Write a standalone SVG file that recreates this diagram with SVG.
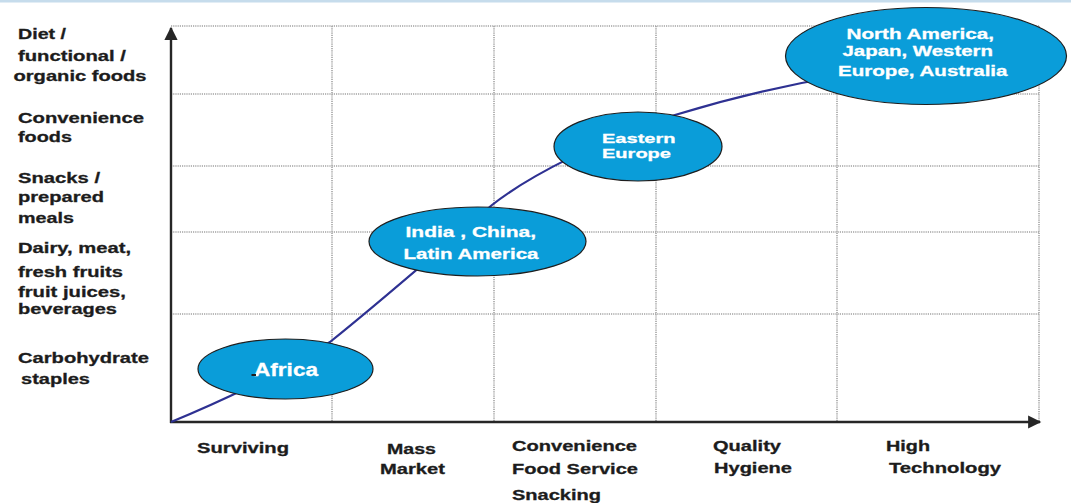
<svg xmlns="http://www.w3.org/2000/svg" width="1071" height="503" viewBox="0 0 1071 503">
  <style>
    .lbl { font-family: "Liberation Sans", Arial, sans-serif; font-weight: bold; font-size: 15px; fill: #1c1c1c; stroke: #1c1c1c; stroke-width: 0.3; }
    .in { font-family: "Liberation Sans", Arial, sans-serif; font-weight: bold; font-size: 15px; fill: #ffffff; stroke: #ffffff; stroke-width: 0.3; }
    .grid { stroke: #a3a3a3; stroke-width: 1.6; stroke-dasharray: 1.2 1; fill: none; }
    .axis { stroke: #262626; stroke-width: 2.4; fill: none; }
    .bubble { fill: #0a9dd9; stroke: #1e1e1e; stroke-width: 1.2; }
    .curve { stroke: #2e3192; stroke-width: 2.2; fill: none; }
  </style>
  <defs>
    <marker id="arrow" viewBox="0 0 10 10" refX="9" refY="5" markerWidth="6" markerHeight="5.5" markerUnits="strokeWidth" orient="auto">
      <path d="M0,0 L10,5 L0,10 z" fill="#262626"/>
    </marker>
  </defs>

  <rect width="1071" height="503" fill="#ffffff"/>
  <rect x="0" y="0" width="1071" height="2.5" fill="#c6dcec"/>

  <!-- grid -->
  <g id="grid">
    <line class="grid" x1="171" y1="26" x2="1039" y2="26"/>
    <line class="grid" x1="171" y1="94" x2="1039" y2="94"/>
    <line class="grid" x1="171" y1="166" x2="1039" y2="166"/>
    <line class="grid" x1="171" y1="232" x2="1039" y2="232"/>
    <line class="grid" x1="171" y1="314" x2="1039" y2="314"/>
    <line class="grid" x1="332" y1="26" x2="332" y2="422"/>
    <line class="grid" x1="494" y1="26" x2="494" y2="422"/>
    <line class="grid" x1="656" y1="26" x2="656" y2="422"/>
    <line class="grid" x1="837" y1="26" x2="837" y2="422"/>
    <line class="grid" x1="1039" y1="26" x2="1039" y2="422"/>
  </g>

  <!-- axes -->
  <g id="axes">
    <line class="axis" x1="171" y1="423" x2="171" y2="28" marker-end="url(#arrow)"/>
    <line class="axis" x1="170" y1="422" x2="1040" y2="422" marker-end="url(#arrow)"/>
  </g>

  <!-- connectors: development path -->
  <g id="connectors">
    <path class="curve" d="M171,422 C210,406 290,370 330,342 C370,310 440,250 492,205 C530,175 600,140 675,115 C730,98 780,86 840,76"/>
  </g>

  <!-- vertical axis categories -->
  <g id="y-labels" class="lbl">
    <text x="18" y="39" textLength="48" lengthAdjust="spacingAndGlyphs">Diet /</text>
    <text x="18" y="61" textLength="108" lengthAdjust="spacingAndGlyphs">functional /</text>
    <text x="13.5" y="81" textLength="133" lengthAdjust="spacingAndGlyphs">organic foods</text>
    <text x="18" y="123" textLength="126" lengthAdjust="spacingAndGlyphs">Convenience</text>
    <text x="18" y="142" textLength="54" lengthAdjust="spacingAndGlyphs">foods</text>
    <text x="18" y="183" textLength="82" lengthAdjust="spacingAndGlyphs">Snacks /</text>
    <text x="18" y="202" textLength="86" lengthAdjust="spacingAndGlyphs">prepared</text>
    <text x="18" y="223" textLength="56" lengthAdjust="spacingAndGlyphs">meals</text>
    <text x="18" y="253" textLength="113" lengthAdjust="spacingAndGlyphs">Dairy, meat,</text>
    <text x="18" y="277" textLength="105" lengthAdjust="spacingAndGlyphs">fresh fruits</text>
    <text x="18" y="297" textLength="108" lengthAdjust="spacingAndGlyphs">fruit juices,</text>
    <text x="18" y="314" textLength="99" lengthAdjust="spacingAndGlyphs">beverages</text>
    <text x="18" y="363" textLength="131" lengthAdjust="spacingAndGlyphs">Carbohydrate</text>
    <text x="21" y="384" textLength="69" lengthAdjust="spacingAndGlyphs">staples</text>
  </g>

  <!-- horizontal axis stages -->
  <g id="x-labels" class="lbl">
    <text x="197" y="453" textLength="92" lengthAdjust="spacingAndGlyphs">Surviving</text>
    <text x="387" y="454" textLength="49" lengthAdjust="spacingAndGlyphs">Mass</text>
    <text x="380" y="474" textLength="65" lengthAdjust="spacingAndGlyphs">Market</text>
    <text x="512" y="451" textLength="125" lengthAdjust="spacingAndGlyphs">Convenience</text>
    <text x="512" y="474" textLength="126" lengthAdjust="spacingAndGlyphs">Food Service</text>
    <text x="512" y="500" textLength="89" lengthAdjust="spacingAndGlyphs">Snacking</text>
    <text x="713" y="451" textLength="68" lengthAdjust="spacingAndGlyphs">Quality</text>
    <text x="714" y="473" textLength="78" lengthAdjust="spacingAndGlyphs">Hygiene</text>
    <text x="886" y="451" textLength="44" lengthAdjust="spacingAndGlyphs">High</text>
    <text x="889" y="473" textLength="112" lengthAdjust="spacingAndGlyphs">Technology</text>
  </g>

  <!-- regions -->
  <g id="africa">
    <ellipse class="bubble" cx="285.5" cy="369" rx="87.5" ry="30"/>
    <text class="in" x="254" y="376" style="font-size:18px" textLength="64" lengthAdjust="spacingAndGlyphs">Africa</text>
    <rect x="251.5" y="374" width="4.5" height="2" fill="#1e1e1e"/>
  </g>

  <g id="india-china-latam">
    <ellipse class="bubble" cx="477.5" cy="241.5" rx="108.5" ry="34.5"/>
    <text class="in" x="405.5" y="237" textLength="130.5" lengthAdjust="spacingAndGlyphs">India  , China,</text>
    <text class="in" x="403.5" y="258.5" textLength="135" lengthAdjust="spacingAndGlyphs">Latin America</text>
  </g>

  <g id="eastern-europe">
    <ellipse class="bubble" cx="638" cy="146.5" rx="84" ry="34.5"/>
    <text class="in" x="602" y="143" style="font-size:13px" textLength="73.5" lengthAdjust="spacingAndGlyphs">Eastern</text>
    <text class="in" x="602" y="158" style="font-size:13px" textLength="69" lengthAdjust="spacingAndGlyphs">Europe</text>
  </g>

  <g id="developed-markets">
    <ellipse class="bubble" cx="926" cy="56" rx="140.5" ry="48.5"/>
    <text class="in" x="846.5" y="38.5" textLength="147.5" lengthAdjust="spacingAndGlyphs">North America,</text>
    <text class="in" x="842.5" y="56" textLength="150.5" lengthAdjust="spacingAndGlyphs">Japan, Western</text>
    <text class="in" x="838" y="76" textLength="169.5" lengthAdjust="spacingAndGlyphs">Europe, Australia</text>
  </g>
</svg>
